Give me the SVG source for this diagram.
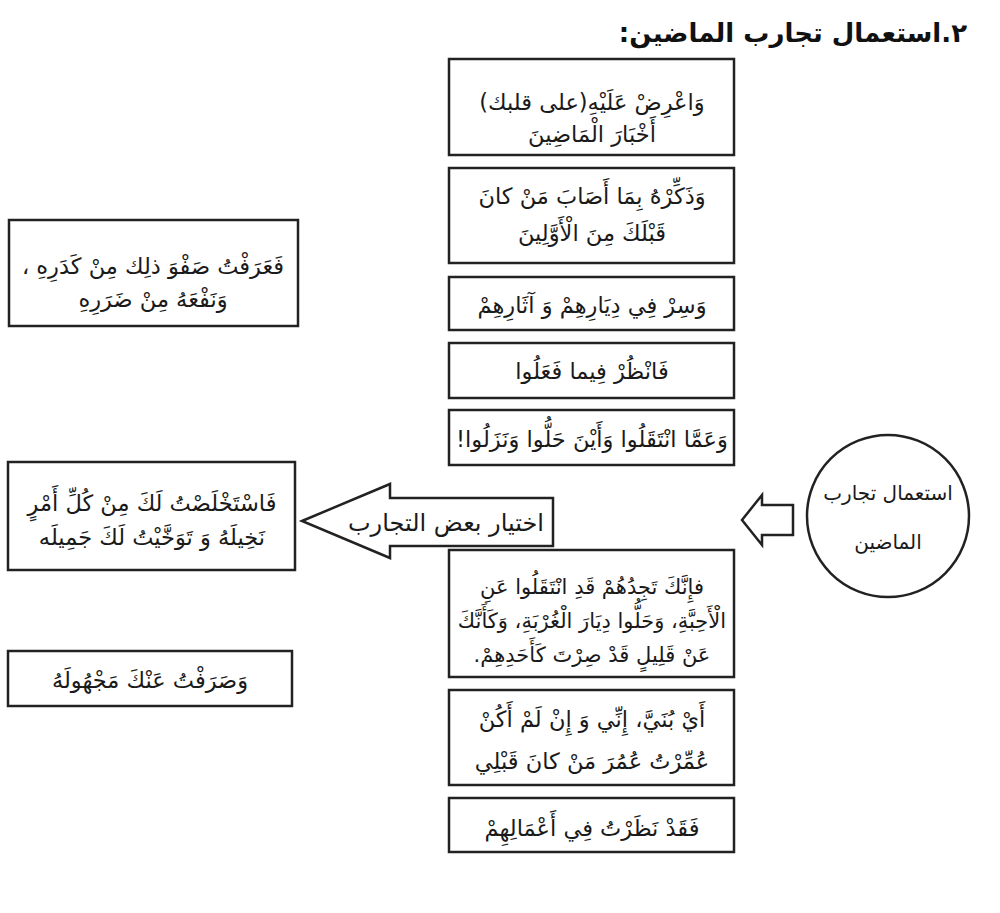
<svg xmlns="http://www.w3.org/2000/svg" width="1000" height="913" viewBox="0 0 1000 913">
<style>
.box{fill:#fff;stroke:#222;stroke-width:2.5}
.t{font-family:"DejaVu Sans",sans-serif;font-size:22.5px;fill:#1a1a1a;text-anchor:middle;direction:rtl}
.s{font-size:21px}
.c{font-size:20px}
.title{font-family:"DejaVu Sans",sans-serif;font-size:26px;font-weight:bold;fill:#111;text-anchor:start;direction:rtl}
.arr{fill:#fff;stroke:#222;stroke-width:2.5;stroke-linejoin:miter}
</style>
<rect width="1000" height="913" fill="#fff"/>
<g id="title"><text class="title" x="967" y="42">٢.استعمال تجارب الماضين:</text></g>

<g id="connectors">
<path class="arr" d="M302,521 L390,484 L390,498 L553,498 L553,546 L390,546 L390,558 Z"/>
<path class="arr" d="M742,520 L762,495 L762,505 L793,505 L793,535 L762,535 L762,545 Z"/>
<text class="t" x="446" y="531" style="font-size:24px">اختيار بعض التجارب</text>
</g>

<g id="b1"><rect class="box" x="449" y="59" width="285" height="96"/>
<text class="t" x="592" y="110">وَاعْرِضْ عَلَيْهِ(على قلبك)</text>
<text class="t" x="592" y="142">أَخْبَارَ الْمَاضِينَ</text></g>

<g id="b2"><rect class="box" x="449" y="168" width="285" height="95"/>
<text class="t" x="592" y="204">وَذَكِّرْهُ بِمَا أَصَابَ مَنْ كانَ</text>
<text class="t" x="592" y="241">قَبْلَكَ مِنَ الْأَوَّلِينَ</text></g>

<g id="b3"><rect class="box" x="449" y="277" width="285" height="53"/>
<text class="t" x="592" y="313">وَسِرْ فِي دِيَارِهِمْ وَ آثَارِهِمْ</text></g>

<g id="b4"><rect class="box" x="449" y="343" width="285" height="55"/>
<text class="t" x="592" y="379">فَانْظُرْ فِيما فَعَلُوا</text></g>

<g id="b5"><rect class="box" x="449" y="410" width="285" height="55"/>
<text class="t" x="592" y="447">وَعَمَّا انْتَقَلُوا وَأَيْنَ حَلُّوا وَنَزَلُوا!</text></g>

<g id="b6"><rect class="box" x="449" y="550" width="285" height="127"/>
<text class="t s" x="592" y="594">فإِنَّكَ تَجِدُهُمْ قَدِ انْتَقَلُوا عَنِ</text>
<text class="t s" x="592" y="628">الْأَحِبَّةِ، وَحَلُّوا دِيَارَ الْغُرْبَةِ، وَكَأَنَّكَ</text>
<text class="t s" x="592" y="662">عَنْ قَلِيلٍ قَدْ صِرْتَ كَأَحَدِهِمْ.</text></g>

<g id="b7"><rect class="box" x="449" y="690" width="285" height="95"/>
<text class="t" x="592" y="727">أَيْ بُنَيَّ، إِنِّي وَ إِنْ لَمْ أَكُنْ</text>
<text class="t" x="592" y="769">عُمِّرْتُ عُمُرَ مَنْ كانَ قَبْلِي</text></g>

<g id="b8"><rect class="box" x="449" y="798" width="285" height="54"/>
<text class="t" x="592" y="836">فَقَدْ نَظَرْتُ فِي أَعْمَالِهِمْ</text></g>

<g id="c1"><circle cx="888" cy="516" r="81" fill="#fff" stroke="#222" stroke-width="2.5"/>
<text class="t c" x="888" y="500">استعمال تجارب</text>
<text class="t c" x="888" y="549">الماضين</text></g>

<g id="l1"><rect class="box" x="9" y="220" width="289" height="106"/>
<text class="t" x="153" y="274">فَعَرَفْتُ صَفْوَ ذلِك مِنْ كَدَرِهِ ،</text>
<text class="t" x="153" y="307">وَنَفْعَهُ مِنْ ضَرَرِهِ</text></g>

<g id="l2"><rect class="box" x="8" y="462" width="287" height="108"/>
<text class="t" x="152" y="511">فَاسْتَخْلَصْتُ لَكَ مِنْ كُلِّ أَمْرٍ</text>
<text class="t" x="152" y="545">نَخِيلَهُ وَ تَوَخَّيْتُ لَكَ جَمِيلَه</text></g>

<g id="l3"><rect class="box" x="8" y="651" width="284" height="55"/>
<text class="t" x="150" y="688">وَصَرَفْتُ عَنْكَ مَجْهُولَهُ</text></g>
</svg>
